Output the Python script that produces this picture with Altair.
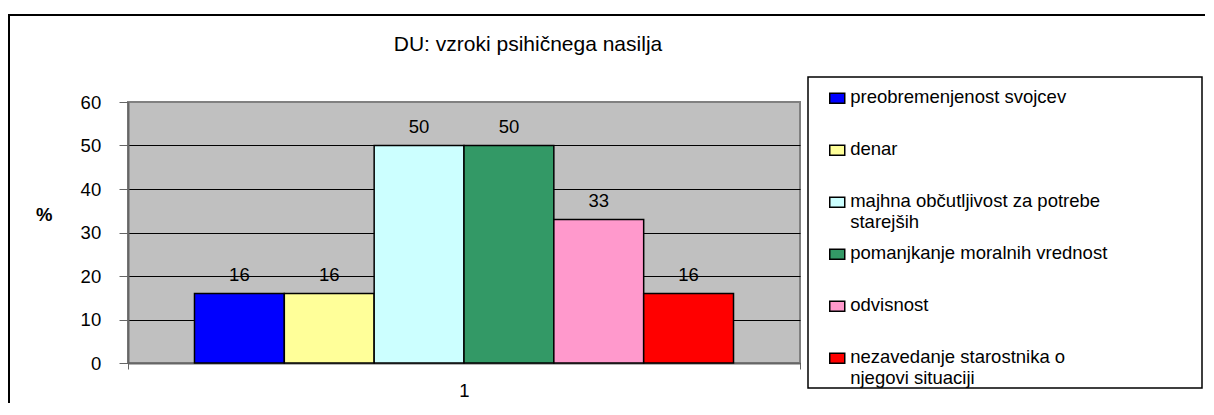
import altair as alt
import pandas as pd

# ---- data ----
title_text = "DU: vzroki psihičnega nasilja"
y_title = "%"
category = ["1"]
series = [
    "preobremenjenost svojcev",
    "denar",
    "majhna občutljivost za potrebe starejših",
    "pomanjkanje moralnih vrednost",
    "odvisnost",
    "nezavedanje starostnika o njegovi situaciji",
]
values = [16, 16, 50, 50, 33, 16]
colors = ["#0000FF", "#FFFF99", "#CCFFFF", "#339966", "#FF99CC", "#FF0000"]
y_ticks = [0, 10, 20, 30, 40, 50, 60]
legend_wrap = {
    "majhna občutljivost za potrebe starejših": ["majhna občutljivost za potrebe", "starejših"],
    "nezavedanje starostnika o njegovi situaciji": ["nezavedanje starostnika o", "njegovi situaciji"],
}

FONT = "Liberation Sans, Arial, sans-serif"
FS = 18.5

df = pd.DataFrame({"grp": category * len(series), "series": series, "value": values})

# legend label expression (two lines for every entry so rows are even)
expr = "[datum.label, '']"
for k, v in legend_wrap.items():
    expr = f"datum.label == '{k}' ? ['{v[0]}', '{v[1]}'] : " + expr

x_enc = alt.X(
    "grp:N",
    scale=alt.Scale(paddingInner=0, paddingOuter=0),
    axis=alt.Axis(
        title=None, labelAngle=0, tickBand="extent", tickSize=6,
        tickColor="#666666", domainColor="#666666", domainWidth=2,
        labelFontSize=FS, labelFont=FONT, labelColor="black", labelPadding=12.6,
    ),
)
xo_enc = alt.XOffset("series:N", sort=series, scale=alt.Scale(paddingInner=0, paddingOuter=0.74))
y_enc = alt.Y(
    "value:Q",
    scale=alt.Scale(domain=[0, 60], nice=False),
    axis=alt.Axis(
        title=y_title, values=y_ticks, grid=True,
        gridColor={"condition": {"test": "datum.value == 60", "value": "#808080"}, "value": "black"},
        gridWidth=1, tickSize=9, tickColor="#666666", domainColor="#666666", domainWidth=2,
        labelFontSize=FS, labelFont=FONT, labelColor="black", labelPadding=18.3,
        titleAngle=0, titleX=-84.2, titleY=112.4, titleAlign="center", titleBaseline="middle",
        titleFontSize=FS, titleFont=FONT, titleFontWeight="bold", titleColor="black",
    ),
)

bars = alt.Chart(df).mark_bar(stroke="black", strokeWidth=1.5).encode(
    x=x_enc,
    xOffset=xo_enc,
    y=y_enc,
    color=alt.Color(
        "series:N",
        sort=series,
        scale=alt.Scale(domain=series, range=colors),
        legend=alt.Legend(
            title=None, orient="none", legendX=700, legendY=-8, padding=0,
            symbolType="M-1.071,-1.429L1.071,-1.429L1.071,0L-1.071,0Z",
            symbolSize=196, symbolStrokeColor="black", symbolStrokeWidth=1.5,
            symbolOpacity=1, labelOffset=3.7, labelFontSize=FS, labelFont=FONT,
            labelColor="black", labelLimit=400, labelBaseline="alphabetic",
            labelExpr=expr, rowPadding=12,
        ),
    ),
)

labels = alt.Chart(df).mark_text(
    baseline="alphabetic", dy=-12.8, fontSize=FS, font=FONT, color="black"
).encode(
    x=alt.X("grp:N"),
    xOffset=alt.XOffset("series:N", sort=series),
    y=alt.Y("value:Q"),
    text=alt.Text("value:Q"),
)

one = pd.DataFrame({"k": [0]})
legend_box = alt.Chart(one).mark_rect(fill="white", stroke="black", strokeWidth=1.5).encode(
    x=alt.value(680), x2=alt.value(1074), y=alt.value(-25), y2=alt.value(286)
)
frame = alt.Chart(one).mark_rect(fill=None, stroke="black", strokeWidth=2).encode(
    x=alt.value(-119), x2=alt.value(1100), y=alt.value(-87), y2=alt.value(400)
)
title = alt.Chart(one).mark_text(
    text=title_text, fontSize=21, font=FONT, color="black", align="center", baseline="alphabetic"
).encode(x=alt.value(400), y=alt.value(-51.5))

chart = alt.layer(frame, legend_box, title, bars, labels).properties(
    width=672,
    height=261,
    padding={"left": 120, "top": 94, "right": 405, "bottom": 40},
    autosize=alt.AutoSizeParams(type="none"),
    background="white",
).configure_view(
    fill="#C0C0C0", stroke="#808080", strokeWidth=2
)

chart.save("out.html", embed_options={"renderer": "svg", "actions": False})
